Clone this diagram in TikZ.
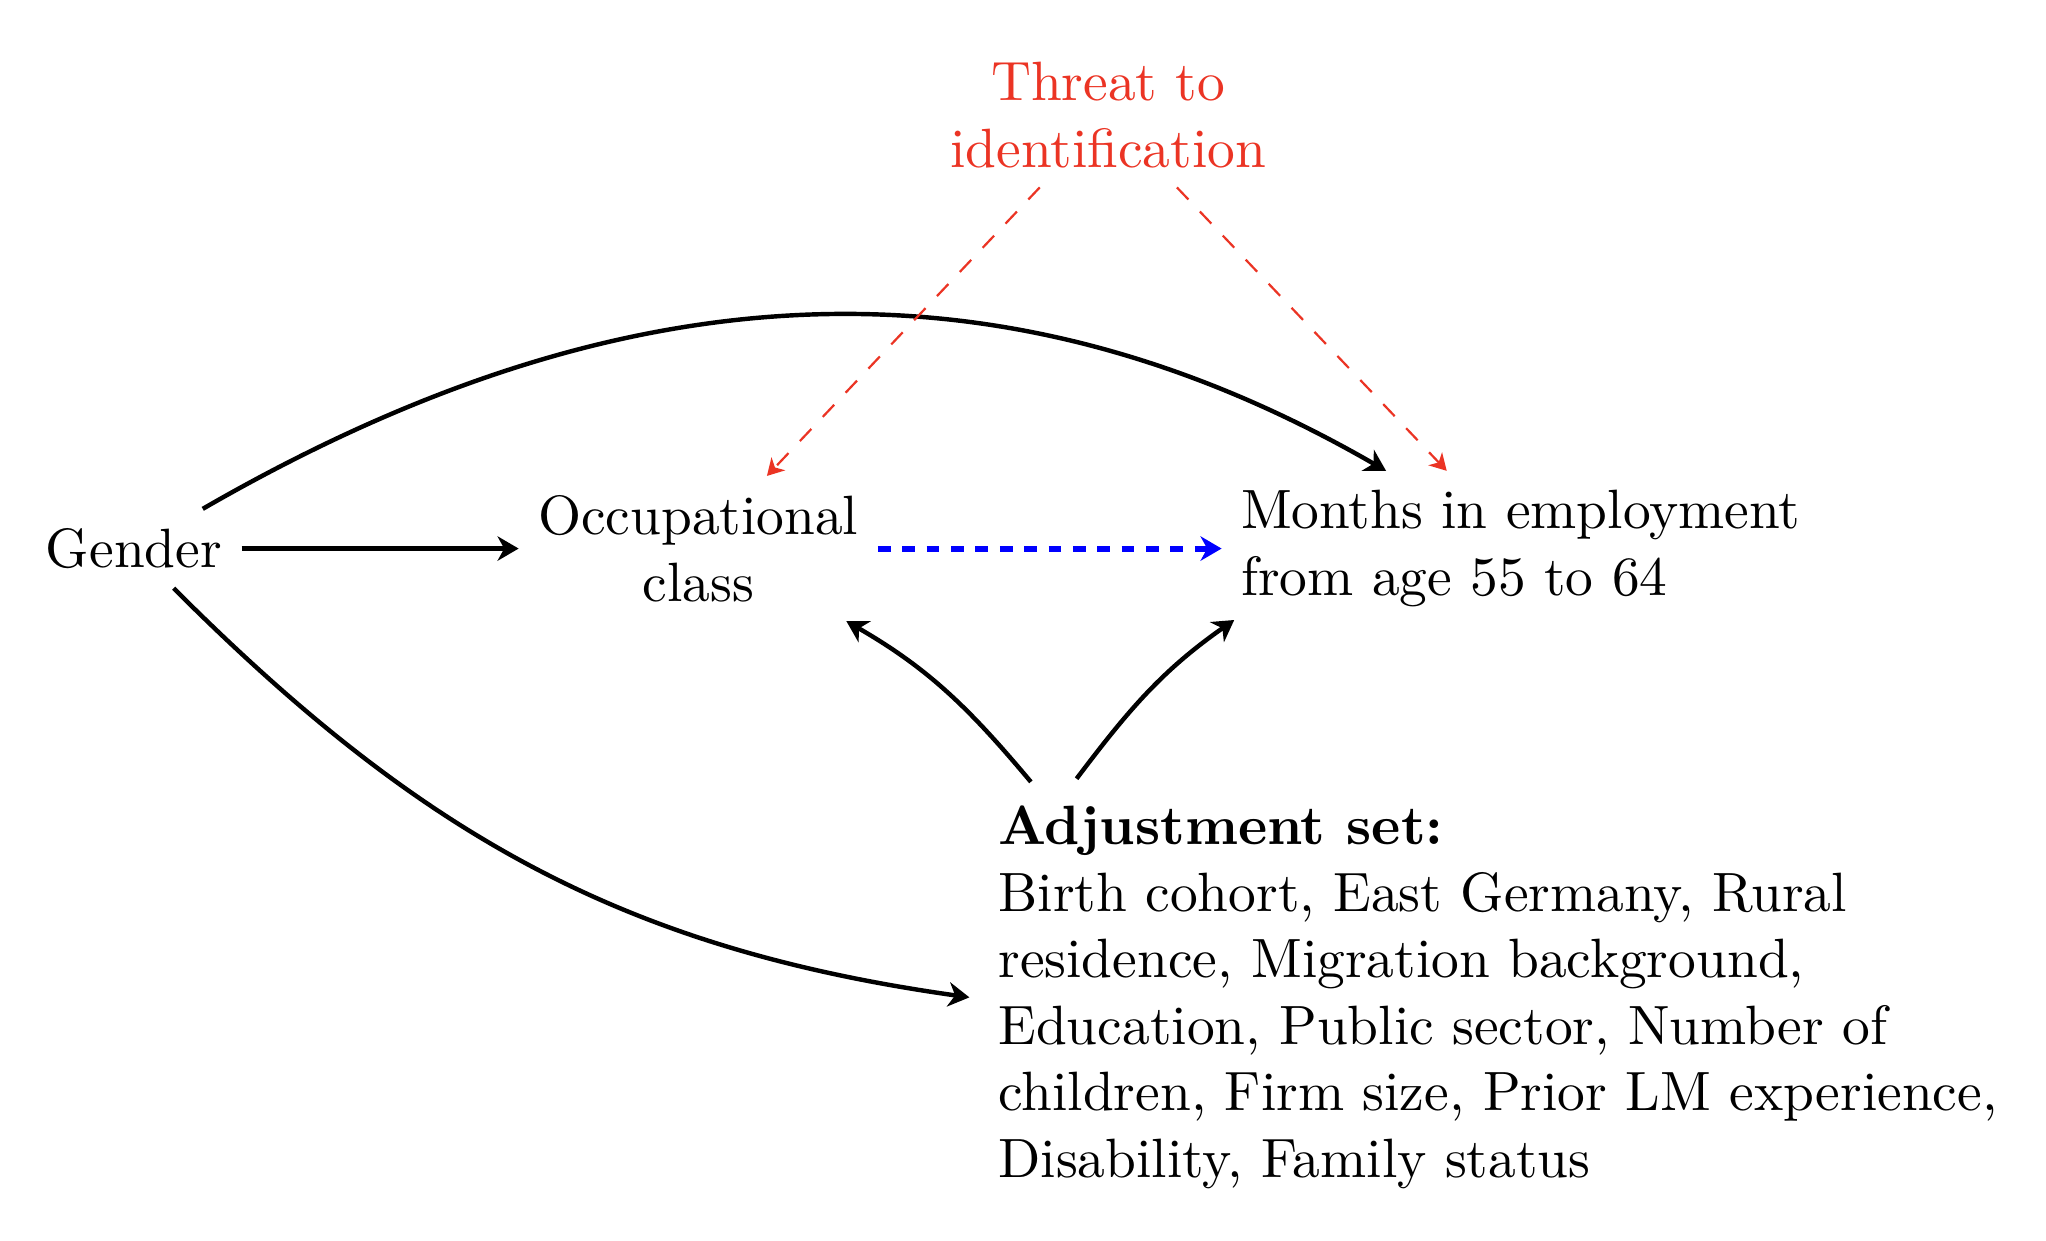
\documentclass[tikz,border=0pt]{standalone}
\usepackage{tikz}
\usetikzlibrary{arrows.meta,calc}
\definecolor{threatred}{RGB}{235,52,36}

\begin{document}
\begin{tikzpicture}[
    var/.style={align=center},
    causal/.style={->,thick},
    threat/.style={-{Stealth[length=3pt,width=3.4pt,inset=0.9pt]},threatred,dashed},
    >={Stealth[length=3.8pt,width=4.4pt,inset=1.2pt]}
]
\useasboundingbox (0,0) rectangle (12.98,-7.87);
\node[var] (gender) at (0.85,-3.48) {Gender};
\node[var] (occ) at (4.43,-3.48) {Occupational\\class};
\node[var,align=left,anchor=west] (months) at (7.75,-3.48) {Months in employment\\from age 55 to 64};
\node[var,text=threatred] (threat) at (7.03,-0.73) {Threat to\\identification};
\node[var,align=left,anchor=north west] (adj) at (6.21,-4.99) {\textbf{Adjustment set:}\\Birth cohort, East Germany, Rural\\residence, Migration background,\\Education, Public sector, Number of\\children, Firm size, Prior LM experience,\\Disability, Family status};

\draw[causal] (gender) -- (occ);
\draw[->,blue,line width=1.1pt,dash pattern=on 2.3pt off 2.1pt] (occ) -- (months);
\draw[causal] (gender) to[out=30,in=150] (months);
\draw[causal] (gender) to[out=-45,in=172] ($(adj.west)+(-0.06,0)$);
\draw[causal] ($(adj.north west)+(0.33,0.03)$) to[out=130,in=-30] ($(occ.south east)+(-0.2,0)$);
\draw[causal] ($(adj.north west)+(0.62,0.05)$) to[out=53,in=215] ($(months.south west)+(0.08,0.04)$);
\draw[threat] (threat) -- (occ);
\draw[threat] (threat) -- (months);
\end{tikzpicture}
\end{document}
